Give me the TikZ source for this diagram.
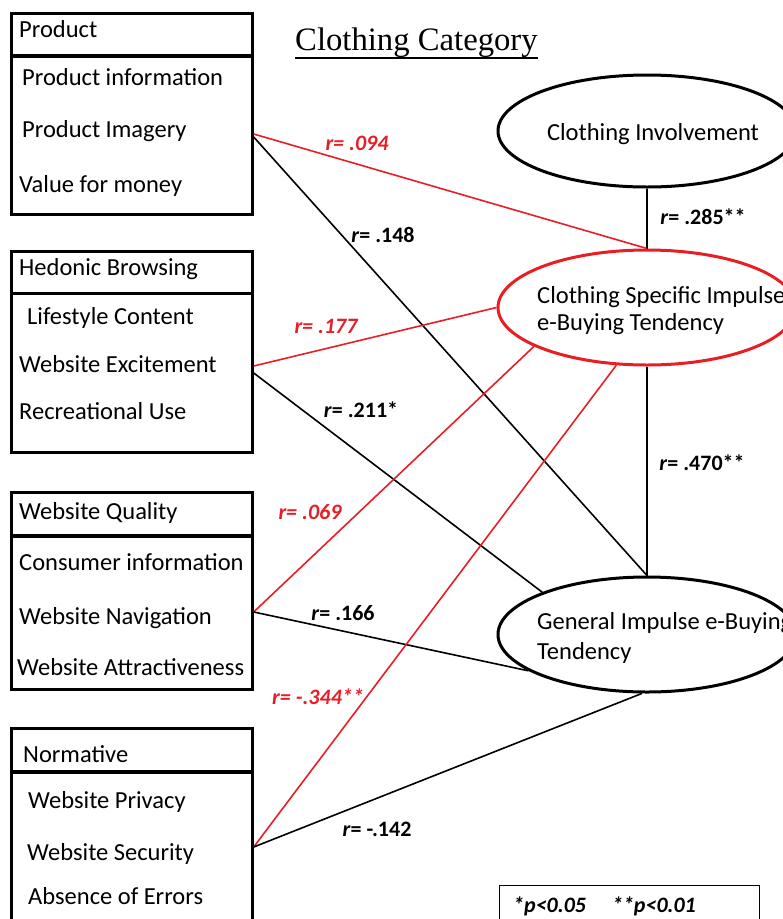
\documentclass[tikz,border=0pt]{standalone}
\usepackage{fontspec}
\setmainfont{Carlito}
\newfontfamily\titlefont{Liberation Serif}
\usetikzlibrary{calc,shapes.geometric,positioning}
\definecolor{linkred}{RGB}{232,30,36}

\begin{document}
\begin{tikzpicture}[x=1pt,y=-1pt,
    box/.style={draw,line width=3.2pt,minimum width=241pt,anchor=north west,inner sep=0pt},
    item/.style={anchor=west,inner sep=0pt,text height=15.6pt,text depth=0pt,font=\fontsize{24.5}{28}\selectfont},
    oval/.style={ellipse,draw,line width=3pt,minimum width=298pt,minimum height=115pt,inner sep=0pt},
    conn/.style={line width=1.6pt},
    redconn/.style={conn,linkred},
    coef/.style={inner sep=0pt,text height=14pt,text depth=0pt,font=\fontsize{22}{26}\selectfont\bfseries},
    redcoef/.style={coef,linkred,font=\fontsize{22}{26}\selectfont\bfseries\itshape}]
\path[use as bounding box,clip] (0,0) rectangle (783,919);

\node[anchor=base west,inner sep=0pt,font=\titlefont\fontsize{32.7}{36}\selectfont] (title) at (295,50) {Clothing Category};
\draw[line width=1.4pt] ([yshift=-8pt]title.base west) -- ([yshift=-8pt]title.base east);

\node[box,minimum height=201pt] (prod) at (9.5,11.5) {};
\draw[line width=3.2pt] (prod.west |- 0,56) -- (prod.east |- 0,56);
\node[item] (prodHead) at (19,30) {Product};
\node[item] (prodInfo) at (22,78) {Product information};
\node[item] (prodImg) at (22,130) {Product Imagery};
\node[item] (prodVal) at (19,185) {Value for money};

\node[box,minimum height=201.5pt] (hed) at (9.5,249.5) {};
\draw[line width=3.2pt] (hed.west |- 0,293.5) -- (hed.east |- 0,293.5);
\node[item] (hedHead) at (19,268) {Hedonic Browsing};
\node[item] (hedLife) at (27,317) {Lifestyle Content};
\node[item] (hedExc) at (19,365) {Website Excitement};
\node[item] (hedRec) at (19,412) {Recreational Use};

\node[box,minimum height=197pt] (wq) at (9.5,491) {};
\draw[line width=3.2pt] (wq.west |- 0,536) -- (wq.east |- 0,536);
\node[item] (wqHead) at (19,512) {Website Quality};
\node[item] (wqCons) at (19,563) {Consumer information};
\node[item] (wqNav) at (19,617) {Website Navigation};
\node[item] (wqAttr) at (17,668) {Website Attractiveness};

\node[box,minimum height=240pt] (norm) at (9.5,727) {};
\draw[line width=3.2pt] (norm.west |- 0,772) -- (norm.east |- 0,772);
\node[item] (normHead) at (23,755) {Normative};
\node[item] (normPriv) at (28,801) {Website Privacy};
\node[item] (normSec) at (27,853) {Website Security};
\node[item] (normErr) at (28,897) {Absence of Errors};

\node[oval,minimum height=112pt] (ci) at (647,131) {};
\node[item,anchor=center] (ciText) at (653,133) {Clothing Involvement};
\node[oval,linkred] (cs) at (647,307.5) {};
\node[item] (csLine1) at (537,296) {Clothing Specific Impulse};
\node[item] (csLine2) at (537,323) {e-Buying Tendency};
\node[oval] (gen) at (647,634.5) {};
\node[item] (genLine1) at (537,622) {General Impulse e-Buying};
\node[item] (genLine2) at (537,652) {Tendency};

\coordinate (prodRed) at (prod.east |- 0,134);
\coordinate (prodBlack) at (prod.east |- 0,137);
\coordinate (hedRed) at (hed.east |- 0,366);
\coordinate (hedBlack) at (hed.east |- 0,373);
\coordinate (wqOut) at (wq.east |- 0,612);
\coordinate (normOut) at (norm.east |- 0,847);

\draw[conn] (ci.south) -- (cs.north);
\draw[conn] (cs.south) -- (gen.north);
\draw[redconn] (prodRed) -- (cs.north);
\draw[conn] (prodBlack) -- (gen.north);
\draw[redconn] (hedRed) -- (cs.west);
\draw[conn] (hedBlack) -- (gen.158);
\draw[redconn] (wqOut) -- (cs.199);
\draw[conn] (wqOut) -- (gen.197);
\draw[redconn] (normOut) -- (cs.242);
\draw[conn] (normOut) -- (gen.265);

\node[redcoef] (rProdCs) at (357,143) {r= .094};
\node[coef] (rProdGen) at (383,235) {\textit{r}= .148};
\node[redcoef] (rHedCs) at (326,326) {r= .177};
\node[coef] (rHedGen) at (361,410) {\textit{r}= .211*};
\node[redcoef] (rWqCs) at (310,512) {r= .069};
\node[coef] (rWqGen) at (343,613) {\textit{r}= .166};
\node[redcoef] (rNormCs) at (318,697) {r= -.344**};
\node[coef] (rNormGen) at (377,829) {\textit{r}= -.142};
\node[coef] (rCiCs) at (703,217) {\textit{r}= .285**};
\node[coef] (rCsGen) at (702,463) {\textit{r}= .470**};

\node[draw,line width=1pt,anchor=north west,minimum width=260pt,minimum height=60pt] (legend) at (498.5,884.5) {};
\node[coef,anchor=west,font=\fontsize{22}{26}\selectfont\bfseries\itshape] (legendText) at (513,905) {*p<0.05\hspace{26pt}**p<0.01};
\end{tikzpicture}
\end{document}
